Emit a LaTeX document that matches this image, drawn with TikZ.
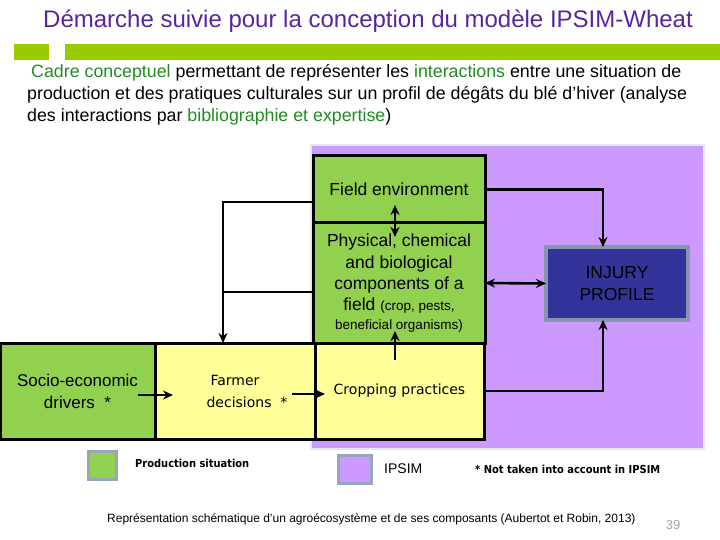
\documentclass[tikz,border=0pt]{standalone}
\usepackage{fontspec}
\setmainfont{Liberation Sans}
\newfontfamily\verdanafont{DejaVu Sans}
\newfontfamily\narrowfont{DejaVu Sans Condensed}
\usetikzlibrary{arrows.meta,positioning}
\definecolor{titlepurple}{RGB}{88,38,156}
\definecolor{bargreen}{RGB}{153,204,0}
\definecolor{txtgreen}{RGB}{34,139,34}
\definecolor{psgreen}{RGB}{146,208,80}
\definecolor{cpyellow}{RGB}{255,255,153}
\definecolor{ipsimlilac}{RGB}{204,153,255}
\definecolor{injuryblue}{RGB}{51,51,153}
\definecolor{edgegray}{RGB}{132,150,176}
\definecolor{paleedge}{RGB}{226,234,240}

\begin{document}
\begin{tikzpicture}[x=1pt,y=-1pt,
  box/.style={draw,line width=3pt,outer sep=0pt,inner sep=0pt,align=center},
  arr/.style={-{Stealth[length=10pt,width=9pt]},line width=2.6pt},
  darr/.style={{Stealth[length=10pt,width=9pt]}-{Stealth[length=10pt,width=9pt]},line width=2.6pt},
  keybox/.style={draw=edgegray!85,line width=3pt,minimum width=28pt,
    minimum height=28pt,outer sep=0pt,inner sep=0pt},
  keytext/.style={anchor=west,inner sep=0pt}
]
\useasboundingbox (0,0) rectangle (720,540);
% heading
\node[anchor=base,inner sep=0pt,text=titlepurple,font=\fontsize{24}{28}\selectfont]
  (title) at (368,28) {Démarche suivie pour la conception du modèle IPSIM-Wheat};
\fill[bargreen] (14,44) rectangle (49,60);
\fill[bargreen] (65,44) rectangle (720,60);
\node[anchor=north west,inner sep=0pt,align=left,font=\fontsize{17.8}{22}\selectfont]
  (intro) at (27,64) {\hspace*{4pt}\textcolor{txtgreen}{Cadre conceptuel} permettant de représenter les
  \textcolor{txtgreen}{interactions} entre une situation de\\
  production et des pratiques culturales sur un profil de dégâts du blé d’hiver (analyse\\
  des interactions par \textcolor{txtgreen}{bibliographie et expertise})};
% IPSIM area
\node[fill=ipsimlilac,draw=paleedge,line width=1.5pt,minimum width=393pt,
  minimum height=304pt,inner sep=0pt,outer sep=0pt] (ipsim) at (507.5,297) {};
% boxes
\node[box,fill=psgreen,minimum width=172pt,minimum height=67pt,
  font=\fontsize{17.5}{20}\selectfont] (fieldenv) at (399,189.5) {Field environment};
\node[box,fill=psgreen,minimum width=172pt,minimum height=120pt,
  font=\fontsize{17.5}{21.3}\selectfont] (physical) at (399,283)
  {Physical, chemical\\and biological\\components of a\\
  field {\fontsize{13.5}{15}\selectfont(crop, pests,}\\[-3pt]
  {\fontsize{13.5}{15}\selectfont beneficial organisms)}};
\node[box,fill=psgreen,minimum width=155pt,minimum height=96pt,
  font=\fontsize{17}{22}\selectfont] (socio) at (77.5,391) {Socio-economic\\drivers~~*};
\node[box,fill=cpyellow,minimum width=160pt,minimum height=96pt,
  font=\verdanafont\fontsize{14}{22}\selectfont] (farmer) at (235,391)
  {Farmer\\\hspace*{24pt}decisions~~*};
\node[box,fill=cpyellow,minimum width=169pt,minimum height=96pt,
  font=\verdanafont\fontsize{14}{17}\selectfont] (cropping) at (399.5,391) {Cropping practices};
\node[box,draw=edgegray,line width=3.5pt,fill=injuryblue,minimum width=142pt,
  minimum height=73pt,font=\fontsize{17.5}{22}\selectfont] (injury) at (617,283.5)
  {INJURY\\PROFILE};
% links
\draw[arr] (fieldenv.east) -| ([xshift=-14pt]injury.north);
\draw[arr] (cropping.east) -| ([xshift=-14pt]injury.south);
\draw[darr] (physical.east) -- (injury.west);
\draw[darr] ([xshift=-4pt,yshift=18pt]fieldenv.south) -- ([xshift=-4pt,yshift=-14pt]physical.north);
\draw[arr] ([xshift=-4.5pt,yshift=-17pt]cropping.north) -- ([xshift=-4pt,yshift=12pt]physical.south);
\draw[arr] ([xshift=-17pt,yshift=-4pt]socio.east) -- ([xshift=18pt,yshift=-4pt]farmer.west);
\draw[arr] ([xshift=-23pt,yshift=-3pt]farmer.east) -- ([xshift=10pt,yshift=-3pt]cropping.west);
\draw[arr] ([yshift=-12.5pt]fieldenv.west) -| ([xshift=-12pt]farmer.north);
\draw[line width=2.6pt] ([yshift=-9pt]physical.west) -- ++(-90,0);
% legend
\node[keybox,fill=psgreen] (keyps) at (102,465) {};
\node[keytext,font=\narrowfont\bfseries\fontsize{11}{13}\selectfont] (keypstext) at (135,463)
  {Production situation};
\node[keybox,fill=ipsimlilac,minimum width=33pt] (keyipsim) at (354.5,469) {};
\node[keytext,font=\fontsize{14}{16}\selectfont] (keyipsimtext) at (384,469) {IPSIM};
\node[keytext,font=\narrowfont\bfseries\fontsize{11}{13}\selectfont] (footnote) at (475,469)
  {* Not taken into account in IPSIM};
\node[keytext,font=\fontsize{12}{14}\selectfont] (caption) at (107,519)
  {Représentation schématique d'un agroécosystème et de ses composants (Aubertot et Robin, 2013)};
\node[inner sep=0pt,text=gray!70,font=\fontsize{13}{15}\selectfont] (pagenum) at (673,525) {39};
\end{tikzpicture}
\end{document}
